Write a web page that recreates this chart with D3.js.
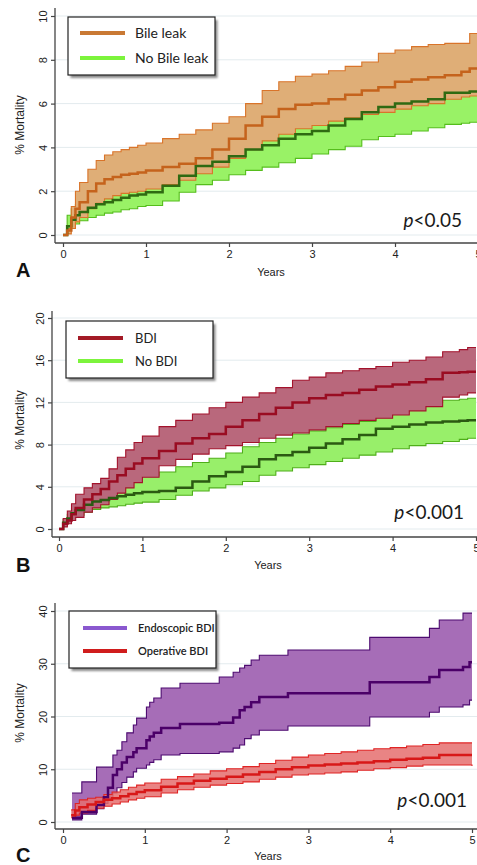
<!DOCTYPE html>
<html>
<head>
<meta charset="utf-8">
<script src="https://cdnjs.cloudflare.com/ajax/libs/d3/7.8.5/d3.min.js"></script>
<style>
  body { margin: 0; background: #fff; }
  svg { display: block; }
</style>
</head>
<body>
<div id="chart"></div>
<script>
// ---- data (% mortality by years) ----
const yearTicks = [0, 1, 2, 3, 4, 5];
const ticksA = [0, 2, 4, 6, 8, 10];
const ticksB = [0, 4, 8, 12, 16, 20];
const ticksC = [0, 10, 20, 30, 40];

// panels A and B share the same time points
const timeGrid = [0, 0.05, 0.1, 0.15, 0.2, 0.3, 0.4, 0.5, 0.6, 0.7, 0.8, 0.9, 1, 1.2, 1.4, 1.6, 1.8, 2, 2.2, 2.4, 2.6, 2.8, 3, 3.2, 3.4, 3.6, 3.8, 4, 4.2, 4.4, 4.6, 4.8, 4.9, 5];

// A: bile leak
const leakUpper = [0, 0.3, 1.3, 2.0, 2.4, 3.0, 3.4, 3.65, 3.8, 3.9, 4.0, 4.1, 4.2, 4.4, 4.6, 4.8, 5.1, 5.4, 6.0, 6.6, 7.0, 7.25, 7.35, 7.5, 7.7, 7.9, 8.3, 8.45, 8.6, 8.7, 8.75, 8.75, 9.2, 9.2];
const leakMid   = [0, 0.2, 0.8, 1.2, 1.5, 2.0, 2.35, 2.55, 2.65, 2.75, 2.8, 2.85, 2.95, 3.1, 3.25, 3.5, 3.9, 4.4, 5.0, 5.4, 5.75, 5.95, 6.0, 6.2, 6.4, 6.6, 6.75, 7.0, 7.1, 7.2, 7.3, 7.45, 7.6, 7.6];
const leakLower = [0, 0.05, 0.3, 0.6, 0.8, 1.2, 1.45, 1.65, 1.8, 1.9, 1.95, 2.0, 2.1, 2.3, 2.5, 2.8, 3.1, 3.5, 3.9, 4.3, 4.6, 4.85, 5.0, 5.2, 5.35, 5.5, 5.6, 5.75, 5.9, 6.0, 6.2, 6.3, 6.35, 6.35];
const noLeakUpper = [0, 0.9, 1.2, 1.4, 1.55, 1.75, 1.9, 2.0, 2.1, 2.2, 2.3, 2.35, 2.45, 2.8, 3.2, 3.6, 3.85, 4.1, 4.4, 4.6, 4.9, 5.1, 5.3, 5.5, 5.8, 6.1, 6.3, 6.5, 6.6, 6.7, 7.0, 7.0, 7.1, 7.1];
const noLeakMid   = [0, 0.4, 0.7, 0.9, 1.05, 1.25, 1.4, 1.5, 1.6, 1.7, 1.8, 1.85, 1.95, 2.25, 2.7, 3.15, 3.35, 3.6, 3.9, 4.1, 4.4, 4.6, 4.75, 5.0, 5.3, 5.6, 5.85, 6.0, 6.1, 6.2, 6.5, 6.5, 6.55, 6.55];
const noLeakLower = [0, 0.2, 0.35, 0.5, 0.65, 0.8, 0.9, 1.0, 1.05, 1.15, 1.2, 1.3, 1.35, 1.55, 1.95, 2.3, 2.5, 2.75, 2.95, 3.1, 3.3, 3.5, 3.7, 3.9, 4.05, 4.35, 4.5, 4.6, 4.75, 4.9, 5.05, 5.1, 5.15, 5.15];

// B: bile duct injury
const bdiUpper = [0, 1.0, 1.7, 2.4, 3.3, 3.9, 4.3, 4.8, 5.7, 6.8, 7.5, 8.2, 8.8, 9.7, 10.3, 10.9, 11.5, 12.0, 12.5, 12.9, 13.4, 14.1, 14.4, 14.8, 15.0, 15.2, 15.4, 15.8, 16.0, 16.3, 16.8, 17.0, 17.2, 17.2];
const bdiMid   = [0, 0.5, 0.8, 1.4, 2.0, 2.8, 3.3, 3.8, 4.5, 5.1, 5.7, 6.2, 6.7, 7.4, 8.1, 8.6, 9.0, 9.7, 10.3, 10.9, 11.5, 12.0, 12.4, 12.7, 12.9, 13.2, 13.5, 13.7, 13.9, 14.2, 14.8, 14.85, 14.9, 14.9];
const bdiLower = [0, 0.2, 0.5, 0.8, 1.1, 1.6, 2.0, 2.3, 2.8, 3.4, 3.9, 4.4, 4.9, 6.0, 6.6, 7.1, 7.6, 7.9, 8.2, 8.6, 8.9, 9.1, 9.4, 9.7, 10.0, 10.3, 10.5, 10.8, 11.2, 11.6, 12.5, 12.7, 12.9, 12.9];
const noBdiUpper = [0, 0.9, 1.4, 2.0, 2.4, 2.9, 3.6, 4.0, 4.2, 4.4, 4.65, 4.9, 5.1, 5.4, 5.9, 6.3, 6.7, 7.2, 7.8, 8.2, 8.6, 9.0, 9.3, 9.6, 9.9, 10.2, 10.8, 11.2, 11.7, 12.0, 12.2, 12.3, 12.4, 12.4];
const noBdiMid   = [0, 0.6, 1.0, 1.5, 1.8, 2.3, 2.6, 2.75, 2.95, 3.1, 3.25, 3.4, 3.5, 3.6, 3.9, 4.5, 5.0, 5.4, 5.9, 6.6, 7.0, 7.3, 7.7, 8.1, 8.5, 8.9, 9.5, 9.7, 9.9, 10.1, 10.2, 10.25, 10.3, 10.3];
const noBdiLower = [0, 0.3, 0.7, 1.1, 1.3, 1.6, 1.85, 2.0, 2.1, 2.2, 2.35, 2.45, 2.55, 2.8, 3.2, 3.6, 3.9, 4.2, 4.5, 5.1, 5.5, 5.8, 6.1, 6.4, 6.7, 7.0, 7.3, 7.6, 7.9, 8.1, 8.3, 8.5, 8.6, 8.6];

// C: endoscopic vs operative BDI
const endoTimes = [0.11, 0.23, 0.41, 0.5, 0.55, 0.61, 0.66, 0.72, 0.78, 0.86, 0.9, 1.02, 1.06, 1.11, 1.2, 1.43, 1.91, 2.08, 2.16, 2.22, 2.3, 2.4, 2.75, 3.75, 4.48, 4.6, 4.89, 4.97, 5.0];
const endoUpper = [5.5, 7.6, 10.4, 10.4, 10.4, 12.7, 13.6, 15.2, 16.9, 18.4, 19.7, 21.8, 22.7, 23.5, 25.4, 26.3, 27.5, 28.4, 29.2, 29.7, 30.7, 31.6, 32.6, 35.0, 36.7, 38.3, 39.6, 39.6, 39.6];
const endoMid   = [0.8, 1.9, 3.2, 4.7, 6.5, 8.9, 10.0, 11.3, 12.3, 13.2, 14.0, 15.5, 16.2, 16.9, 17.8, 18.6, 18.8, 19.8, 21.2, 21.8, 22.7, 23.7, 24.4, 26.5, 27.5, 28.8, 29.4, 30.3, 30.3];
const endoLower = [0.4, 1.5, 2.5, 3.5, 4.5, 5.5, 6.5, 7.5, 8.5, 9.5, 10.2, 10.8, 11.3, 11.8, 12.7, 13.0, 13.3, 14.0, 14.6, 15.8, 16.5, 17.4, 18.2, 19.9, 20.8, 21.8, 22.2, 23.1, 23.1];
const opTimes = [0.1, 0.15, 0.2, 0.3, 0.4, 0.5, 0.6, 0.7, 0.8, 0.9, 1.0, 1.2, 1.4, 1.6, 1.8, 2.0, 2.2, 2.4, 2.6, 2.8, 3.0, 3.2, 3.4, 3.6, 3.8, 4.0, 4.2, 4.4, 4.6, 5.0];
const opUpper = [2.3, 3.5, 4.2, 4.5, 4.7, 5.2, 5.7, 6.1, 6.6, 7.0, 7.4, 8.1, 8.6, 9.1, 9.7, 10.1, 10.5, 11.1, 11.7, 12.3, 12.7, 13.0, 13.3, 13.6, 13.9, 14.1, 14.4, 14.7, 15.0, 15.0];
const opMid   = [1.3, 2.2, 2.8, 3.3, 3.8, 4.2, 4.5, 4.9, 5.3, 5.7, 6.0, 6.7, 7.3, 7.8, 8.2, 8.6, 9.0, 9.5, 10.0, 10.4, 10.7, 10.9, 11.1, 11.3, 11.5, 11.8, 12.0, 12.2, 12.7, 12.7];
const opLower = [0.8, 1.3, 1.7, 2.2, 2.6, 3.0, 3.4, 3.8, 4.2, 4.5, 4.8, 5.5, 6.1, 6.6, 7.0, 7.3, 7.6, 8.1, 8.5, 8.9, 9.1, 9.3, 9.5, 9.8, 10.1, 10.3, 10.6, 10.8, 10.8, 10.6];

const width = 477, height = 865;

const svg = d3.select("#chart")
    .append("svg")
    .attr("width", width)
    .attr("height", height);

// soft shadow for the legend boxes
svg.append("defs").append("filter")
    .attr("id", "blur")
    .append("feGaussianBlur")
    .attr("stdDeviation", 1.3);

const panels = [
  {
    letter: "A", x0: 63, x5: 478, y0: 235, yTop: 16, yMax: 10, yTicks: ticksA,
    axisX: 55, axisY: 243, axisTop: 8, titleY: 125, yearsX: 271, yearsY: 276, letterY: 277,
    pX: 462, pY: 227, pLabel: "<0.05",
    bands: [
      { times: timeGrid, lo: noLeakLower, mid: noLeakMid, hi: noLeakUpper, fill: "#99f266", edge: "#55bd1c", line: "#2f6a12" },
      { times: timeGrid, lo: leakLower, mid: leakMid, hi: leakUpper, fill: "#dfae77", edge: "#d9742a", line: "#c5631c" }
    ],
    legend: { x: 68, y: 17, w: 147, h: 58, lx1: 80, lx2: 125, tx: 135, size: 14,
      items: [ { label: "Bile leak", color: "#c97934", y: 33 }, { label: "No Bile leak", color: "#7cf43c", y: 58 } ] }
  },
  {
    letter: "B", x0: 59, x5: 476, y0: 529, yTop: 318, yMax: 20, yTicks: ticksB,
    axisX: 52, axisY: 537, axisTop: 311, titleY: 420, yearsX: 268, yearsY: 569, letterY: 572,
    pX: 464, pY: 519, pLabel: "<0.001",
    bands: [
      { times: timeGrid, lo: noBdiLower, mid: noBdiMid, hi: noBdiUpper, fill: "#98ef6a", edge: "#4fae1a", line: "#2b5a12" },
      { times: timeGrid, lo: bdiLower, mid: bdiMid, hi: bdiUpper, fill: "#b9687c", edge: "#a3132c", line: "#9a0c22" }
    ],
    legend: { x: 66, y: 321, w: 147, h: 57, lx1: 78, lx2: 123, tx: 135, size: 13,
      items: [ { label: "BDI", color: "#a31a26", y: 338 }, { label: "No BDI", color: "#7cf43c", y: 361 } ] }
  },
  {
    letter: "C", x0: 63, x5: 472, y0: 822, yTop: 611, yMax: 40, yTicks: ticksC,
    axisX: 55, axisY: 829, axisTop: 603, titleY: 713, yearsX: 268, yearsY: 860, letterY: 862,
    pX: 467, pY: 807, pLabel: "<0.001",
    bands: [
      { times: endoTimes, lo: endoLower, mid: endoMid, hi: endoUpper, fill: "#a66db7", edge: "#4d0b70", line: "#4b0068" },
      { times: opTimes, lo: opLower, mid: opMid, hi: opUpper, fill: "rgba(229,110,110,0.85)", edge: "#e02424", line: "#d81818" }
    ],
    legend: { x: 69, y: 611, w: 147, h: 57, lx1: 83, lx2: 127, tx: 138, size: 11, bold: true,
      items: [ { label: "Endoscopic BDI", color: "#8a58cf", y: 628 }, { label: "Operative BDI", color: "#d01c1c", y: 651 } ] }
  }
];

function drawPanel(p) {
    const g = svg.append("g");

    const xScale = d3.scaleLinear().domain([0, 5]).range([p.x0, p.x5]);
    const yScale = d3.scaleLinear().domain([0, p.yMax]).range([p.y0, p.yTop]);

    // light horizontal grid
    g.selectAll(".grid")
        .data(p.yTicks)
        .enter()
        .append("line")
        .attr("x1", p.axisX)
        .attr("x2", width)
        .attr("y1", d => yScale(d))
        .attr("y2", d => yScale(d))
        .attr("stroke", "#e3ebee")
        .attr("stroke-width", 1);

    const area = d3.area()
        .curve(d3.curveStepAfter)
        .x(d => xScale(d.t))
        .y0(d => yScale(d.lo))
        .y1(d => yScale(d.hi));
    const line = key => d3.line()
        .curve(d3.curveStepAfter)
        .x(d => xScale(d.t))
        .y(d => yScale(d[key]));

    const rowsOf = b => b.times.map((t, i) => ({ t: t, lo: b.lo[i], mid: b.mid[i], hi: b.hi[i] }));

    // confidence bands with their edges
    p.bands.forEach(b => {
        const rows = rowsOf(b);
        g.append("path").datum(rows)
            .attr("d", area)
            .attr("fill", b.fill);
        ["lo", "hi"].forEach(k => {
            g.append("path").datum(rows)
                .attr("d", line(k))
                .attr("fill", "none")
                .attr("stroke", b.edge)
                .attr("stroke-width", 1.1);
        });
    });

    // survival estimates on top
    p.bands.forEach(b => {
        g.append("path").datum(rowsOf(b))
            .attr("d", line("mid"))
            .attr("fill", "none")
            .attr("stroke", b.line)
            .attr("stroke-width", 2.5);
    });

    // axes
    const xAxis = d3.axisBottom(xScale).tickValues(yearTicks).tickSize(4).tickPadding(3).tickFormat(d3.format("d"));
    const xg = g.append("g")
        .attr("transform", `translate(0, ${p.axisY})`)
        .call(xAxis);
    xg.select(".domain").remove();
    xg.selectAll("line").attr("stroke", "#444").attr("stroke-width", 1.2);
    xg.selectAll("text")
        .style("font-family", "'Liberation Sans', Arial, sans-serif")
        .style("font-size", "11px")
        .attr("fill", "#222");

    const yAxis = d3.axisLeft(yScale).tickValues(p.yTicks).tickSize(4).tickFormat(d3.format("d"));
    const yg = g.append("g")
        .attr("transform", `translate(${p.axisX}, 0)`)
        .call(yAxis);
    yg.select(".domain").remove();
    yg.selectAll("line").attr("stroke", "#444").attr("stroke-width", 1.2);
    yg.selectAll("text")
        .attr("transform", "rotate(-90)")
        .attr("x", 0)
        .attr("y", -8)
        .attr("dy", 0)
        .style("text-anchor", "middle")
        .style("font-family", "'Liberation Sans', Arial, sans-serif")
        .style("font-size", "11px")
        .attr("fill", "#222");

    g.append("line")
        .attr("x1", p.axisX).attr("x2", p.axisX)
        .attr("y1", p.axisTop).attr("y2", p.axisY)
        .attr("stroke", "#444").attr("stroke-width", 1.3);
    g.append("line")
        .attr("x1", p.axisX).attr("x2", width)
        .attr("y1", p.axisY).attr("y2", p.axisY)
        .attr("stroke", "#444").attr("stroke-width", 1.3);

    // axis titles
    g.append("text")
        .text("% Mortality")
        .attr("transform", `translate(24, ${p.titleY}) rotate(-90)`)
        .style("font-family", "'Liberation Sans', Arial, sans-serif")
        .style("font-size", "12px")
        .style("text-anchor", "middle")
        .attr("fill", "#222");
    g.append("text")
        .text("Years")
        .attr("x", p.yearsX)
        .attr("y", p.yearsY)
        .style("font-family", "'Liberation Sans', Arial, sans-serif")
        .style("font-size", "11px")
        .style("text-anchor", "middle")
        .attr("fill", "#222");

    // panel letter
    g.append("text")
        .text(p.letter)
        .attr("x", 16)
        .attr("y", p.letterY)
        .style("font-family", "'Liberation Sans', Arial, sans-serif")
        .style("font-size", "20px")
        .style("font-weight", 700)
        .attr("fill", "#111");

    // p value
    const pt = g.append("text")
        .attr("x", p.pX)
        .attr("y", p.pY)
        .style("font-family", "Lato, 'Open Sans', sans-serif")
        .style("font-size", "19px")
        .style("text-anchor", "end")
        .attr("fill", "#1a1a1a");
    pt.append("tspan").style("font-style", "italic").text("p");
    pt.append("tspan").text(p.pLabel);

    // legend
    const L = p.legend;
    g.append("rect")
        .attr("x", L.x + 2.5).attr("y", L.y + 3)
        .attr("width", L.w).attr("height", L.h)
        .attr("fill", "#8a8a8a")
        .attr("filter", "url(#blur)");
    g.append("rect")
        .attr("x", L.x).attr("y", L.y)
        .attr("width", L.w).attr("height", L.h)
        .attr("fill", "#fff")
        .attr("stroke", "#222")
        .attr("stroke-width", 1.2);
    const row = g.selectAll(".legend-item")
        .data(L.items)
        .enter()
        .append("g");
    row.append("line")
        .attr("x1", L.lx1).attr("x2", L.lx2)
        .attr("y1", d => d.y).attr("y2", d => d.y)
        .attr("stroke", d => d.color)
        .attr("stroke-width", 4);
    row.append("text")
        .attr("x", L.tx)
        .attr("y", d => d.y + L.size * 0.36)
        .style("font-family", "Lato, 'Open Sans', sans-serif")
        .style("font-size", L.size + "px")
        .style("font-weight", L.bold ? 600 : 400)
        .attr("fill", "#222")
        .text(d => d.label);
}

panels.forEach(drawPanel);
</script>
</body>
</html>
